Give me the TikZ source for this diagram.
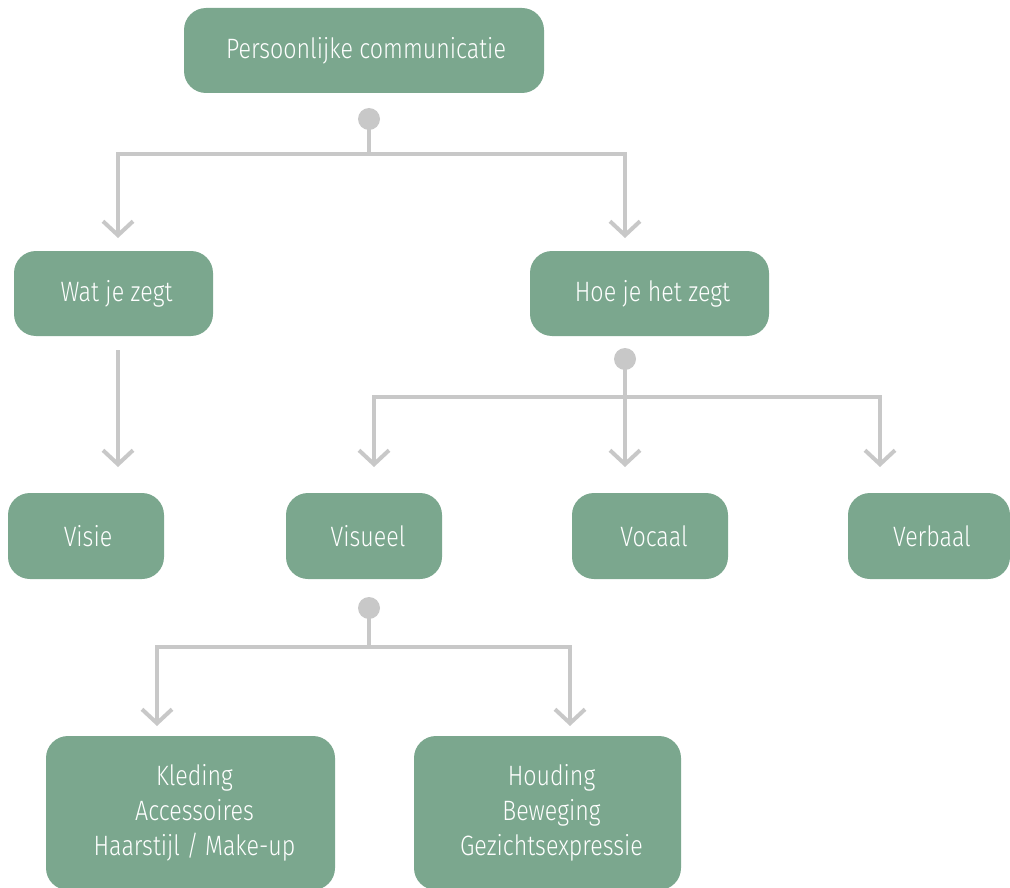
\documentclass[tikz,border=0pt]{standalone}
\usepackage{fontspec}
\setmainfont{Fira Sans Light}[FakeStretch=0.83]
\usetikzlibrary{arrows.meta}
\definecolor{boxgreen}{HTML}{7BA78E}
\definecolor{linegray}{HTML}{C8C8C8}
\tikzset{
  box/.style={fill=boxgreen, rounded corners=22pt, text=white, font=\fontsize{28}{35}\selectfont, align=center, inner sep=0pt},
  conn/.style={draw=linegray, line width=4pt},
  arr/.style={conn, -{Straight Barb[length=14pt,width=30pt,line width=4pt]}},
  knob/.style={circle, fill=linegray, minimum size=22pt, inner sep=0pt}
}
\begin{document}
\begin{tikzpicture}[x=1pt,y=-1pt]
\useasboundingbox (0,0) rectangle (1010,888);
% boxes
\node[box, minimum width=360pt, minimum height=85pt] (top) at (364,50.5) {\hspace*{4pt}Persoonlijke communicatie};
\node[box, minimum width=199pt, minimum height=85pt] (wat) at (113.5,293.5) {\hspace*{6pt}Wat je zegt};
\node[box, minimum width=239pt, minimum height=85pt] (hoe) at (649.5,293.5) {\hspace*{6pt}Hoe je het zegt};
\node[box, minimum width=156pt, minimum height=86pt] (visie) at (86,536) {\hspace*{4pt}Visie};
\node[box, minimum width=156pt, minimum height=86pt] (visueel) at (364,536) {\hspace*{8pt}Visueel};
\node[box, minimum width=156pt, minimum height=86pt] (vocaal) at (650,536) {\hspace*{8pt}Vocaal};
\node[box, minimum width=162pt, minimum height=86pt] (verbaal) at (929,536) {\hspace*{6pt}Verbaal};
\node[box, minimum width=289pt, minimum height=154pt] (kleding) at (190.5,813) {\hspace*{8pt}Kleding\\\hspace*{8pt}Accessoires\\\hspace*{8pt}Haarstijl / Make-up};
\node[box, minimum width=267pt, minimum height=154pt] (houding) at (547.5,813) {\hspace*{8pt}Houding\\\hspace*{8pt}Beweging\\\hspace*{8pt}Gezichtsexpressie};
% knobs
\node[knob] (k1) at (369,119) {};
\node[knob] (k2) at (625,359) {};
\node[knob] (k3) at (369,608) {};
% arrow end points
\coordinate (e1) at (118,238);
\coordinate (e2) at (625,238);
\coordinate (e3) at (118,467);
\coordinate (e4) at (374,467);
\coordinate (e5) at (625,467);
\coordinate (e6) at (880,467);
\coordinate (e7) at (157,726);
\coordinate (e8) at (570,726);
\coordinate (s3) at (118,350);
% connectors
\draw[conn] (k1.center) -- (369,154);
\draw[arr] (369,154) -| (e1);
\draw[arr] (369,154) -| (e2);
\draw[arr] (s3) -- (e3);
\draw[arr] (k2.center) -- (e5);
\draw[arr] (625,397) -| (e4);
\draw[arr] (625,397) -| (e6);
\draw[conn] (k3.center) -- (369,647);
\draw[arr] (369,647) -| (e7);
\draw[arr] (369,647) -| (e8);
\end{tikzpicture}
\end{document}
